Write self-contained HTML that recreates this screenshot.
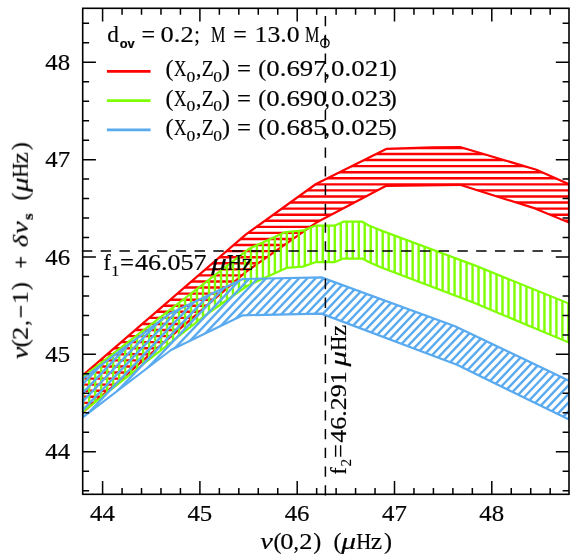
<!DOCTYPE html><html><head><meta charset="utf-8"><title>chart</title><style>html,body{margin:0;padding:0;background:#fff}svg{display:block}text{font-family:"Liberation Serif",serif;fill:#000;stroke:#000;stroke-width:0.18px}.sans{font-family:"Liberation Sans",sans-serif}.i{font-style:italic;stroke-width:0.2px}</style></head><body>
<svg width="584" height="556" viewBox="0 0 584 556">
<rect width="584" height="556" fill="#fff"/>
<defs>
<clipPath id="cr"><polygon points="82.7,375.3 246.0,234.3 316.0,184.0 386.2,148.9 432.4,147.4 460.0,147.0 536.4,169.7 569.0,184.3 569.0,222.6 535.0,208.4 460.0,184.8 386.2,185.8 316.0,222.8 246.0,271.8 82.7,412.3"/></clipPath>
<clipPath id="cg"><polygon points="82.7,377.0 249.2,248.7 285.5,232.0 302.0,230.7 315.3,225.7 334.4,225.7 343.3,221.7 362.2,221.7 368.8,225.5 380.0,230.1 474.0,265.1 569.0,303.6 569.0,342.6 474.0,302.8 380.0,267.0 368.8,262.0 362.2,258.6 343.3,258.6 334.4,262.2 315.3,262.2 302.8,266.6 286.4,267.9 247.0,286.0 205.0,315.5 82.7,412.0"/></clipPath>
<clipPath id="cb"><polygon points="82.7,378.8 170.0,313.5 242.8,279.0 321.4,277.4 455.0,326.3 569.0,380.7 569.0,419.5 457.0,364.8 321.4,313.6 242.8,315.3 171.0,350.0 82.7,417.4"/></clipPath>
<clipPath id="cf"><rect x="82.7" y="8.3" width="486.3" height="486.0"/></clipPath>
</defs>
<g clip-path="url(#cf)">
<g clip-path="url(#cr)"><g stroke="#ff0000" stroke-width="2.4"><line x1="82.7" y1="2.25" x2="569.0" y2="2.25"/><line x1="82.7" y1="8.32" x2="569.0" y2="8.32"/><line x1="82.7" y1="14.39" x2="569.0" y2="14.39"/><line x1="82.7" y1="20.46" x2="569.0" y2="20.46"/><line x1="82.7" y1="26.53" x2="569.0" y2="26.53"/><line x1="82.7" y1="32.60" x2="569.0" y2="32.60"/><line x1="82.7" y1="38.67" x2="569.0" y2="38.67"/><line x1="82.7" y1="44.74" x2="569.0" y2="44.74"/><line x1="82.7" y1="50.81" x2="569.0" y2="50.81"/><line x1="82.7" y1="56.88" x2="569.0" y2="56.88"/><line x1="82.7" y1="62.95" x2="569.0" y2="62.95"/><line x1="82.7" y1="69.02" x2="569.0" y2="69.02"/><line x1="82.7" y1="75.09" x2="569.0" y2="75.09"/><line x1="82.7" y1="81.16" x2="569.0" y2="81.16"/><line x1="82.7" y1="87.23" x2="569.0" y2="87.23"/><line x1="82.7" y1="93.30" x2="569.0" y2="93.30"/><line x1="82.7" y1="99.37" x2="569.0" y2="99.37"/><line x1="82.7" y1="105.44" x2="569.0" y2="105.44"/><line x1="82.7" y1="111.51" x2="569.0" y2="111.51"/><line x1="82.7" y1="117.58" x2="569.0" y2="117.58"/><line x1="82.7" y1="123.65" x2="569.0" y2="123.65"/><line x1="82.7" y1="129.72" x2="569.0" y2="129.72"/><line x1="82.7" y1="135.79" x2="569.0" y2="135.79"/><line x1="82.7" y1="141.86" x2="569.0" y2="141.86"/><line x1="82.7" y1="147.93" x2="569.0" y2="147.93"/><line x1="82.7" y1="154.00" x2="569.0" y2="154.00"/><line x1="82.7" y1="160.07" x2="569.0" y2="160.07"/><line x1="82.7" y1="166.14" x2="569.0" y2="166.14"/><line x1="82.7" y1="172.21" x2="569.0" y2="172.21"/><line x1="82.7" y1="178.28" x2="569.0" y2="178.28"/><line x1="82.7" y1="184.35" x2="569.0" y2="184.35"/><line x1="82.7" y1="190.42" x2="569.0" y2="190.42"/><line x1="82.7" y1="196.49" x2="569.0" y2="196.49"/><line x1="82.7" y1="202.56" x2="569.0" y2="202.56"/><line x1="82.7" y1="208.63" x2="569.0" y2="208.63"/><line x1="82.7" y1="214.70" x2="569.0" y2="214.70"/><line x1="82.7" y1="220.77" x2="569.0" y2="220.77"/><line x1="82.7" y1="226.84" x2="569.0" y2="226.84"/><line x1="82.7" y1="232.91" x2="569.0" y2="232.91"/><line x1="82.7" y1="238.98" x2="569.0" y2="238.98"/><line x1="82.7" y1="245.05" x2="569.0" y2="245.05"/><line x1="82.7" y1="251.12" x2="569.0" y2="251.12"/><line x1="82.7" y1="257.19" x2="569.0" y2="257.19"/><line x1="82.7" y1="263.26" x2="569.0" y2="263.26"/><line x1="82.7" y1="269.33" x2="569.0" y2="269.33"/><line x1="82.7" y1="275.40" x2="569.0" y2="275.40"/><line x1="82.7" y1="281.47" x2="569.0" y2="281.47"/><line x1="82.7" y1="287.54" x2="569.0" y2="287.54"/><line x1="82.7" y1="293.61" x2="569.0" y2="293.61"/><line x1="82.7" y1="299.68" x2="569.0" y2="299.68"/><line x1="82.7" y1="305.75" x2="569.0" y2="305.75"/><line x1="82.7" y1="311.82" x2="569.0" y2="311.82"/><line x1="82.7" y1="317.89" x2="569.0" y2="317.89"/><line x1="82.7" y1="323.96" x2="569.0" y2="323.96"/><line x1="82.7" y1="330.03" x2="569.0" y2="330.03"/><line x1="82.7" y1="336.10" x2="569.0" y2="336.10"/><line x1="82.7" y1="342.17" x2="569.0" y2="342.17"/><line x1="82.7" y1="348.24" x2="569.0" y2="348.24"/><line x1="82.7" y1="354.31" x2="569.0" y2="354.31"/><line x1="82.7" y1="360.38" x2="569.0" y2="360.38"/><line x1="82.7" y1="366.45" x2="569.0" y2="366.45"/><line x1="82.7" y1="372.52" x2="569.0" y2="372.52"/><line x1="82.7" y1="378.59" x2="569.0" y2="378.59"/><line x1="82.7" y1="384.66" x2="569.0" y2="384.66"/><line x1="82.7" y1="390.73" x2="569.0" y2="390.73"/><line x1="82.7" y1="396.80" x2="569.0" y2="396.80"/><line x1="82.7" y1="402.87" x2="569.0" y2="402.87"/><line x1="82.7" y1="408.94" x2="569.0" y2="408.94"/><line x1="82.7" y1="415.01" x2="569.0" y2="415.01"/><line x1="82.7" y1="421.08" x2="569.0" y2="421.08"/><line x1="82.7" y1="427.15" x2="569.0" y2="427.15"/><line x1="82.7" y1="433.22" x2="569.0" y2="433.22"/><line x1="82.7" y1="439.29" x2="569.0" y2="439.29"/><line x1="82.7" y1="445.36" x2="569.0" y2="445.36"/><line x1="82.7" y1="451.43" x2="569.0" y2="451.43"/><line x1="82.7" y1="457.50" x2="569.0" y2="457.50"/><line x1="82.7" y1="463.57" x2="569.0" y2="463.57"/><line x1="82.7" y1="469.64" x2="569.0" y2="469.64"/><line x1="82.7" y1="475.71" x2="569.0" y2="475.71"/><line x1="82.7" y1="481.78" x2="569.0" y2="481.78"/><line x1="82.7" y1="487.85" x2="569.0" y2="487.85"/><line x1="82.7" y1="493.92" x2="569.0" y2="493.92"/></g></g>
<polygon points="82.7,375.3 246.0,234.3 316.0,184.0 386.2,148.9 432.4,147.4 460.0,147.0 536.4,169.7 569.0,184.3 569.0,222.6 535.0,208.4 460.0,184.8 386.2,185.8 316.0,222.8 246.0,271.8 82.7,412.3" fill="none" stroke="#ff0000" stroke-width="2.2" stroke-linejoin="round"/>
<g clip-path="url(#cg)"><g stroke="#7fff00" stroke-width="2.4"><line x1="77.21" y1="8.3" x2="77.21" y2="494.3"/><line x1="83.20" y1="8.3" x2="83.20" y2="494.3"/><line x1="89.19" y1="8.3" x2="89.19" y2="494.3"/><line x1="95.18" y1="8.3" x2="95.18" y2="494.3"/><line x1="101.17" y1="8.3" x2="101.17" y2="494.3"/><line x1="107.16" y1="8.3" x2="107.16" y2="494.3"/><line x1="113.15" y1="8.3" x2="113.15" y2="494.3"/><line x1="119.14" y1="8.3" x2="119.14" y2="494.3"/><line x1="125.13" y1="8.3" x2="125.13" y2="494.3"/><line x1="131.12" y1="8.3" x2="131.12" y2="494.3"/><line x1="137.11" y1="8.3" x2="137.11" y2="494.3"/><line x1="143.10" y1="8.3" x2="143.10" y2="494.3"/><line x1="149.09" y1="8.3" x2="149.09" y2="494.3"/><line x1="155.08" y1="8.3" x2="155.08" y2="494.3"/><line x1="161.07" y1="8.3" x2="161.07" y2="494.3"/><line x1="167.06" y1="8.3" x2="167.06" y2="494.3"/><line x1="173.05" y1="8.3" x2="173.05" y2="494.3"/><line x1="179.04" y1="8.3" x2="179.04" y2="494.3"/><line x1="185.03" y1="8.3" x2="185.03" y2="494.3"/><line x1="191.02" y1="8.3" x2="191.02" y2="494.3"/><line x1="197.01" y1="8.3" x2="197.01" y2="494.3"/><line x1="203.00" y1="8.3" x2="203.00" y2="494.3"/><line x1="208.99" y1="8.3" x2="208.99" y2="494.3"/><line x1="214.98" y1="8.3" x2="214.98" y2="494.3"/><line x1="220.97" y1="8.3" x2="220.97" y2="494.3"/><line x1="226.96" y1="8.3" x2="226.96" y2="494.3"/><line x1="232.95" y1="8.3" x2="232.95" y2="494.3"/><line x1="238.94" y1="8.3" x2="238.94" y2="494.3"/><line x1="244.93" y1="8.3" x2="244.93" y2="494.3"/><line x1="250.92" y1="8.3" x2="250.92" y2="494.3"/><line x1="256.91" y1="8.3" x2="256.91" y2="494.3"/><line x1="262.90" y1="8.3" x2="262.90" y2="494.3"/><line x1="268.89" y1="8.3" x2="268.89" y2="494.3"/><line x1="274.88" y1="8.3" x2="274.88" y2="494.3"/><line x1="280.87" y1="8.3" x2="280.87" y2="494.3"/><line x1="286.86" y1="8.3" x2="286.86" y2="494.3"/><line x1="292.85" y1="8.3" x2="292.85" y2="494.3"/><line x1="298.84" y1="8.3" x2="298.84" y2="494.3"/><line x1="304.83" y1="8.3" x2="304.83" y2="494.3"/><line x1="310.82" y1="8.3" x2="310.82" y2="494.3"/><line x1="316.81" y1="8.3" x2="316.81" y2="494.3"/><line x1="322.80" y1="8.3" x2="322.80" y2="494.3"/><line x1="328.79" y1="8.3" x2="328.79" y2="494.3"/><line x1="334.78" y1="8.3" x2="334.78" y2="494.3"/><line x1="340.77" y1="8.3" x2="340.77" y2="494.3"/><line x1="346.76" y1="8.3" x2="346.76" y2="494.3"/><line x1="352.75" y1="8.3" x2="352.75" y2="494.3"/><line x1="358.74" y1="8.3" x2="358.74" y2="494.3"/><line x1="364.73" y1="8.3" x2="364.73" y2="494.3"/><line x1="370.72" y1="8.3" x2="370.72" y2="494.3"/><line x1="376.71" y1="8.3" x2="376.71" y2="494.3"/><line x1="382.70" y1="8.3" x2="382.70" y2="494.3"/><line x1="388.69" y1="8.3" x2="388.69" y2="494.3"/><line x1="394.68" y1="8.3" x2="394.68" y2="494.3"/><line x1="400.67" y1="8.3" x2="400.67" y2="494.3"/><line x1="406.66" y1="8.3" x2="406.66" y2="494.3"/><line x1="412.65" y1="8.3" x2="412.65" y2="494.3"/><line x1="418.64" y1="8.3" x2="418.64" y2="494.3"/><line x1="424.63" y1="8.3" x2="424.63" y2="494.3"/><line x1="430.62" y1="8.3" x2="430.62" y2="494.3"/><line x1="436.61" y1="8.3" x2="436.61" y2="494.3"/><line x1="442.60" y1="8.3" x2="442.60" y2="494.3"/><line x1="448.59" y1="8.3" x2="448.59" y2="494.3"/><line x1="454.58" y1="8.3" x2="454.58" y2="494.3"/><line x1="460.57" y1="8.3" x2="460.57" y2="494.3"/><line x1="466.56" y1="8.3" x2="466.56" y2="494.3"/><line x1="472.55" y1="8.3" x2="472.55" y2="494.3"/><line x1="478.54" y1="8.3" x2="478.54" y2="494.3"/><line x1="484.53" y1="8.3" x2="484.53" y2="494.3"/><line x1="490.52" y1="8.3" x2="490.52" y2="494.3"/><line x1="496.51" y1="8.3" x2="496.51" y2="494.3"/><line x1="502.50" y1="8.3" x2="502.50" y2="494.3"/><line x1="508.49" y1="8.3" x2="508.49" y2="494.3"/><line x1="514.48" y1="8.3" x2="514.48" y2="494.3"/><line x1="520.47" y1="8.3" x2="520.47" y2="494.3"/><line x1="526.46" y1="8.3" x2="526.46" y2="494.3"/><line x1="532.45" y1="8.3" x2="532.45" y2="494.3"/><line x1="538.44" y1="8.3" x2="538.44" y2="494.3"/><line x1="544.43" y1="8.3" x2="544.43" y2="494.3"/><line x1="550.42" y1="8.3" x2="550.42" y2="494.3"/><line x1="556.41" y1="8.3" x2="556.41" y2="494.3"/><line x1="562.40" y1="8.3" x2="562.40" y2="494.3"/><line x1="568.39" y1="8.3" x2="568.39" y2="494.3"/></g></g>
<polygon points="82.7,377.0 249.2,248.7 285.5,232.0 302.0,230.7 315.3,225.7 334.4,225.7 343.3,221.7 362.2,221.7 368.8,225.5 380.0,230.1 474.0,265.1 569.0,303.6 569.0,342.6 474.0,302.8 380.0,267.0 368.8,262.0 362.2,258.6 343.3,258.6 334.4,262.2 315.3,262.2 302.8,266.6 286.4,267.9 247.0,286.0 205.0,315.5 82.7,412.0" fill="none" stroke="#7fff00" stroke-width="2.2" stroke-linejoin="round"/>
<g clip-path="url(#cb)"><g stroke="#5aaaf0" stroke-width="2.4"><line x1="-385.11" y1="494.3" x2="77.75" y2="8.3"/><line x1="-376.86" y1="494.3" x2="86.00" y2="8.3"/><line x1="-368.61" y1="494.3" x2="94.25" y2="8.3"/><line x1="-360.36" y1="494.3" x2="102.50" y2="8.3"/><line x1="-352.11" y1="494.3" x2="110.75" y2="8.3"/><line x1="-343.86" y1="494.3" x2="119.00" y2="8.3"/><line x1="-335.61" y1="494.3" x2="127.25" y2="8.3"/><line x1="-327.36" y1="494.3" x2="135.50" y2="8.3"/><line x1="-319.11" y1="494.3" x2="143.75" y2="8.3"/><line x1="-310.86" y1="494.3" x2="152.00" y2="8.3"/><line x1="-302.61" y1="494.3" x2="160.25" y2="8.3"/><line x1="-294.36" y1="494.3" x2="168.50" y2="8.3"/><line x1="-286.11" y1="494.3" x2="176.75" y2="8.3"/><line x1="-277.86" y1="494.3" x2="185.00" y2="8.3"/><line x1="-269.61" y1="494.3" x2="193.25" y2="8.3"/><line x1="-261.36" y1="494.3" x2="201.50" y2="8.3"/><line x1="-253.11" y1="494.3" x2="209.75" y2="8.3"/><line x1="-244.86" y1="494.3" x2="218.00" y2="8.3"/><line x1="-236.61" y1="494.3" x2="226.25" y2="8.3"/><line x1="-228.36" y1="494.3" x2="234.50" y2="8.3"/><line x1="-220.11" y1="494.3" x2="242.75" y2="8.3"/><line x1="-211.86" y1="494.3" x2="251.00" y2="8.3"/><line x1="-203.61" y1="494.3" x2="259.25" y2="8.3"/><line x1="-195.36" y1="494.3" x2="267.50" y2="8.3"/><line x1="-187.11" y1="494.3" x2="275.75" y2="8.3"/><line x1="-178.86" y1="494.3" x2="284.00" y2="8.3"/><line x1="-170.61" y1="494.3" x2="292.25" y2="8.3"/><line x1="-162.36" y1="494.3" x2="300.50" y2="8.3"/><line x1="-154.11" y1="494.3" x2="308.75" y2="8.3"/><line x1="-145.86" y1="494.3" x2="317.00" y2="8.3"/><line x1="-137.61" y1="494.3" x2="325.25" y2="8.3"/><line x1="-129.36" y1="494.3" x2="333.50" y2="8.3"/><line x1="-121.11" y1="494.3" x2="341.75" y2="8.3"/><line x1="-112.86" y1="494.3" x2="350.00" y2="8.3"/><line x1="-104.61" y1="494.3" x2="358.25" y2="8.3"/><line x1="-96.36" y1="494.3" x2="366.50" y2="8.3"/><line x1="-88.11" y1="494.3" x2="374.75" y2="8.3"/><line x1="-79.86" y1="494.3" x2="383.00" y2="8.3"/><line x1="-71.61" y1="494.3" x2="391.25" y2="8.3"/><line x1="-63.36" y1="494.3" x2="399.50" y2="8.3"/><line x1="-55.11" y1="494.3" x2="407.75" y2="8.3"/><line x1="-46.86" y1="494.3" x2="416.00" y2="8.3"/><line x1="-38.61" y1="494.3" x2="424.25" y2="8.3"/><line x1="-30.36" y1="494.3" x2="432.50" y2="8.3"/><line x1="-22.11" y1="494.3" x2="440.75" y2="8.3"/><line x1="-13.86" y1="494.3" x2="449.00" y2="8.3"/><line x1="-5.61" y1="494.3" x2="457.25" y2="8.3"/><line x1="2.64" y1="494.3" x2="465.50" y2="8.3"/><line x1="10.89" y1="494.3" x2="473.75" y2="8.3"/><line x1="19.14" y1="494.3" x2="482.00" y2="8.3"/><line x1="27.39" y1="494.3" x2="490.25" y2="8.3"/><line x1="35.64" y1="494.3" x2="498.50" y2="8.3"/><line x1="43.89" y1="494.3" x2="506.75" y2="8.3"/><line x1="52.14" y1="494.3" x2="515.00" y2="8.3"/><line x1="60.39" y1="494.3" x2="523.25" y2="8.3"/><line x1="68.64" y1="494.3" x2="531.50" y2="8.3"/><line x1="76.89" y1="494.3" x2="539.75" y2="8.3"/><line x1="85.14" y1="494.3" x2="548.00" y2="8.3"/><line x1="93.39" y1="494.3" x2="556.25" y2="8.3"/><line x1="101.64" y1="494.3" x2="564.50" y2="8.3"/><line x1="109.89" y1="494.3" x2="572.75" y2="8.3"/><line x1="118.14" y1="494.3" x2="581.00" y2="8.3"/><line x1="126.39" y1="494.3" x2="589.25" y2="8.3"/><line x1="134.64" y1="494.3" x2="597.50" y2="8.3"/><line x1="142.89" y1="494.3" x2="605.75" y2="8.3"/><line x1="151.14" y1="494.3" x2="614.00" y2="8.3"/><line x1="159.39" y1="494.3" x2="622.25" y2="8.3"/><line x1="167.64" y1="494.3" x2="630.50" y2="8.3"/><line x1="175.89" y1="494.3" x2="638.75" y2="8.3"/><line x1="184.14" y1="494.3" x2="647.00" y2="8.3"/><line x1="192.39" y1="494.3" x2="655.25" y2="8.3"/><line x1="200.64" y1="494.3" x2="663.50" y2="8.3"/><line x1="208.89" y1="494.3" x2="671.75" y2="8.3"/><line x1="217.14" y1="494.3" x2="680.00" y2="8.3"/><line x1="225.39" y1="494.3" x2="688.25" y2="8.3"/><line x1="233.64" y1="494.3" x2="696.50" y2="8.3"/><line x1="241.89" y1="494.3" x2="704.75" y2="8.3"/><line x1="250.14" y1="494.3" x2="713.00" y2="8.3"/><line x1="258.39" y1="494.3" x2="721.25" y2="8.3"/><line x1="266.64" y1="494.3" x2="729.50" y2="8.3"/><line x1="274.89" y1="494.3" x2="737.75" y2="8.3"/><line x1="283.14" y1="494.3" x2="746.00" y2="8.3"/><line x1="291.39" y1="494.3" x2="754.25" y2="8.3"/><line x1="299.64" y1="494.3" x2="762.50" y2="8.3"/><line x1="307.89" y1="494.3" x2="770.75" y2="8.3"/><line x1="316.14" y1="494.3" x2="779.00" y2="8.3"/><line x1="324.39" y1="494.3" x2="787.25" y2="8.3"/><line x1="332.64" y1="494.3" x2="795.50" y2="8.3"/><line x1="340.89" y1="494.3" x2="803.75" y2="8.3"/><line x1="349.14" y1="494.3" x2="812.00" y2="8.3"/><line x1="357.39" y1="494.3" x2="820.25" y2="8.3"/><line x1="365.64" y1="494.3" x2="828.50" y2="8.3"/><line x1="373.89" y1="494.3" x2="836.75" y2="8.3"/><line x1="382.14" y1="494.3" x2="845.00" y2="8.3"/><line x1="390.39" y1="494.3" x2="853.25" y2="8.3"/><line x1="398.64" y1="494.3" x2="861.50" y2="8.3"/><line x1="406.89" y1="494.3" x2="869.75" y2="8.3"/><line x1="415.14" y1="494.3" x2="878.00" y2="8.3"/><line x1="423.39" y1="494.3" x2="886.25" y2="8.3"/><line x1="431.64" y1="494.3" x2="894.50" y2="8.3"/><line x1="439.89" y1="494.3" x2="902.75" y2="8.3"/><line x1="448.14" y1="494.3" x2="911.00" y2="8.3"/><line x1="456.39" y1="494.3" x2="919.25" y2="8.3"/><line x1="464.64" y1="494.3" x2="927.50" y2="8.3"/><line x1="472.89" y1="494.3" x2="935.75" y2="8.3"/><line x1="481.14" y1="494.3" x2="944.00" y2="8.3"/><line x1="489.39" y1="494.3" x2="952.25" y2="8.3"/><line x1="497.64" y1="494.3" x2="960.50" y2="8.3"/><line x1="505.89" y1="494.3" x2="968.75" y2="8.3"/><line x1="514.14" y1="494.3" x2="977.00" y2="8.3"/><line x1="522.39" y1="494.3" x2="985.25" y2="8.3"/><line x1="530.64" y1="494.3" x2="993.50" y2="8.3"/><line x1="538.89" y1="494.3" x2="1001.75" y2="8.3"/><line x1="547.14" y1="494.3" x2="1010.00" y2="8.3"/><line x1="555.39" y1="494.3" x2="1018.25" y2="8.3"/><line x1="563.64" y1="494.3" x2="1026.50" y2="8.3"/></g></g>
<polygon points="82.7,378.8 170.0,313.5 242.8,279.0 321.4,277.4 455.0,326.3 569.0,380.7 569.0,419.5 457.0,364.8 321.4,313.6 242.8,315.3 171.0,350.0 82.7,417.4" fill="none" stroke="#5aaaf0" stroke-width="2.2" stroke-linejoin="round"/>
</g>
<line x1="81.9" y1="250.9" x2="569.0" y2="250.9" stroke="#000" stroke-width="1.5" stroke-dasharray="10.4 8.375"/>
<line x1="325.4" y1="495.6" x2="325.4" y2="8.3" stroke="#000" stroke-width="1.5" stroke-dasharray="10.3 8.47"/>
<rect x="82.7" y="8.3" width="486.3" height="486.0" fill="none" stroke="#000" stroke-width="1.6"/>
<path d="M102.60 8.3v13.2M102.60 494.3v-13.2M122.06 8.3v6.4M122.06 494.3v-6.4M141.52 8.3v6.4M141.52 494.3v-6.4M160.98 8.3v6.4M160.98 494.3v-6.4M180.44 8.3v6.4M180.44 494.3v-6.4M199.90 8.3v13.2M199.90 494.3v-13.2M219.36 8.3v6.4M219.36 494.3v-6.4M238.82 8.3v6.4M238.82 494.3v-6.4M258.28 8.3v6.4M258.28 494.3v-6.4M277.74 8.3v6.4M277.74 494.3v-6.4M297.20 8.3v13.2M297.20 494.3v-13.2M316.66 8.3v6.4M316.66 494.3v-6.4M336.12 8.3v6.4M336.12 494.3v-6.4M355.58 8.3v6.4M355.58 494.3v-6.4M375.04 8.3v6.4M375.04 494.3v-6.4M394.50 8.3v13.2M394.50 494.3v-13.2M413.96 8.3v6.4M413.96 494.3v-6.4M433.42 8.3v6.4M433.42 494.3v-6.4M452.88 8.3v6.4M452.88 494.3v-6.4M472.34 8.3v6.4M472.34 494.3v-6.4M491.80 8.3v13.2M491.80 494.3v-13.2M511.26 8.3v6.4M511.26 494.3v-6.4M530.72 8.3v6.4M530.72 494.3v-6.4M550.18 8.3v6.4M550.18 494.3v-6.4M82.7 490.64h6.4M569.0 490.64h-6.4M82.7 471.17h6.4M569.0 471.17h-6.4M82.7 451.70h13.2M569.0 451.70h-13.2M82.7 432.23h6.4M569.0 432.23h-6.4M82.7 412.76h6.4M569.0 412.76h-6.4M82.7 393.29h6.4M569.0 393.29h-6.4M82.7 373.82h6.4M569.0 373.82h-6.4M82.7 354.35h13.2M569.0 354.35h-13.2M82.7 334.88h6.4M569.0 334.88h-6.4M82.7 315.41h6.4M569.0 315.41h-6.4M82.7 295.94h6.4M569.0 295.94h-6.4M82.7 276.47h6.4M569.0 276.47h-6.4M82.7 257.00h13.2M569.0 257.00h-13.2M82.7 237.53h6.4M569.0 237.53h-6.4M82.7 218.06h6.4M569.0 218.06h-6.4M82.7 198.59h6.4M569.0 198.59h-6.4M82.7 179.12h6.4M569.0 179.12h-6.4M82.7 159.65h13.2M569.0 159.65h-13.2M82.7 140.18h6.4M569.0 140.18h-6.4M82.7 120.71h6.4M569.0 120.71h-6.4M82.7 101.24h6.4M569.0 101.24h-6.4M82.7 81.77h6.4M569.0 81.77h-6.4M82.7 62.30h13.2M569.0 62.30h-13.2M82.7 42.83h6.4M569.0 42.83h-6.4M82.7 23.36h6.4M569.0 23.36h-6.4" stroke="#000" stroke-width="1.5" fill="none"/>
<g opacity="0.999">
<text x="90.10" y="520.70" font-size="22.2" textLength="24.80" lengthAdjust="spacingAndGlyphs" >44</text>
<text x="45.30" y="459.20" font-size="22.2" textLength="24.80" lengthAdjust="spacingAndGlyphs" >44</text>
<text x="187.40" y="520.70" font-size="22.2" textLength="24.80" lengthAdjust="spacingAndGlyphs" >45</text>
<text x="45.30" y="361.85" font-size="22.2" textLength="24.80" lengthAdjust="spacingAndGlyphs" >45</text>
<text x="284.70" y="520.70" font-size="22.2" textLength="24.80" lengthAdjust="spacingAndGlyphs" >46</text>
<text x="45.30" y="264.50" font-size="22.2" textLength="24.80" lengthAdjust="spacingAndGlyphs" >46</text>
<text x="382.00" y="520.70" font-size="22.2" textLength="24.80" lengthAdjust="spacingAndGlyphs" >47</text>
<text x="45.30" y="167.15" font-size="22.2" textLength="24.80" lengthAdjust="spacingAndGlyphs" >47</text>
<text x="479.30" y="520.70" font-size="22.2" textLength="24.80" lengthAdjust="spacingAndGlyphs" >48</text>
<text x="45.30" y="69.80" font-size="22.2" textLength="24.80" lengthAdjust="spacingAndGlyphs" >48</text>
<text x="260.30" y="548.80" font-size="24" textLength="12.60" lengthAdjust="spacingAndGlyphs" class="i" >ν</text><text x="273.40" y="548.80" font-size="23.2" textLength="8.00" lengthAdjust="spacingAndGlyphs" >(</text><text x="280.20" y="548.80" font-size="23.2" textLength="13.20" lengthAdjust="spacingAndGlyphs" >0</text><text x="293.40" y="548.80" font-size="23.2" textLength="5.40" lengthAdjust="spacingAndGlyphs" >,</text><text x="299.30" y="548.80" font-size="23.2" textLength="13.20" lengthAdjust="spacingAndGlyphs" >2</text><text x="313.30" y="548.80" font-size="23.2" textLength="8.00" lengthAdjust="spacingAndGlyphs" >)</text><text x="333.40" y="548.80" font-size="23.2" textLength="8.00" lengthAdjust="spacingAndGlyphs" >(</text><text x="341.20" y="548.80" font-size="24" textLength="14.80" lengthAdjust="spacingAndGlyphs" class="i" >μ</text><text x="356.20" y="548.80" font-size="23.2" textLength="15.00" lengthAdjust="spacingAndGlyphs" >H</text><text x="370.80" y="548.80" font-size="23.2" textLength="11.40" lengthAdjust="spacingAndGlyphs" >z</text><text x="384.00" y="548.80" font-size="23.2" textLength="8.00" lengthAdjust="spacingAndGlyphs" >)</text>
<g transform="translate(27.8,358.7) rotate(-90)"><text x="-0.50" y="0.00" font-size="24" textLength="12.60" lengthAdjust="spacingAndGlyphs" class="i" >ν</text><text x="11.60" y="0.00" font-size="23.2" textLength="8.00" lengthAdjust="spacingAndGlyphs" >(</text><text x="18.80" y="0.00" font-size="23.2" textLength="13.20" lengthAdjust="spacingAndGlyphs" >2</text><text x="33.00" y="0.00" font-size="23.2" textLength="5.40" lengthAdjust="spacingAndGlyphs" >,</text><path d="M41.4 -6.9h11.4" stroke="#000" stroke-width="1.5"/><text x="54.60" y="0.00" font-size="23.2" textLength="13.20" lengthAdjust="spacingAndGlyphs" >1</text><text x="68.60" y="0.00" font-size="23.2" textLength="8.00" lengthAdjust="spacingAndGlyphs" >)</text><path d="M91.1 -6.9h10.6M96.4 -12.2v10.6" stroke="#000" stroke-width="1.5" fill="none"/><text x="111.40" y="0.00" font-size="22" textLength="12.40" lengthAdjust="spacingAndGlyphs" class="i" >δ</text><text x="124.80" y="0.00" font-size="24" textLength="12.60" lengthAdjust="spacingAndGlyphs" class="i" >ν</text><text x="138.80" y="5.20" font-size="14" textLength="6.60" lengthAdjust="spacingAndGlyphs" font-weight="bold">s</text><text x="158.20" y="0.00" font-size="23.2" textLength="8.00" lengthAdjust="spacingAndGlyphs" >(</text><text x="166.80" y="0.00" font-size="24" textLength="14.60" lengthAdjust="spacingAndGlyphs" class="i" >μ</text><text x="180.90" y="0.00" font-size="23.2" textLength="15.00" lengthAdjust="spacingAndGlyphs" >H</text><text x="195.20" y="0.00" font-size="23.2" textLength="11.40" lengthAdjust="spacingAndGlyphs" >z</text><text x="208.40" y="0.00" font-size="23.2" textLength="8.00" lengthAdjust="spacingAndGlyphs" >)</text></g>
<text x="107.30" y="41.50" font-size="23.2" textLength="11.60" lengthAdjust="spacingAndGlyphs" >d</text><text x="119.70" y="47.80" font-size="13" textLength="15.00" lengthAdjust="spacingAndGlyphs" class="sans" font-weight="bold">ov</text><text x="141.40" y="41.50" font-size="23.2" textLength="13.60" lengthAdjust="spacingAndGlyphs" >=</text><text x="160.60" y="41.50" font-size="23.2" textLength="33.00" lengthAdjust="spacingAndGlyphs" >0.2</text><text x="194.20" y="41.50" font-size="23.2" textLength="5.60" lengthAdjust="spacingAndGlyphs" >;</text><text x="211.10" y="41.50" font-size="23.2" textLength="14.40" lengthAdjust="spacingAndGlyphs" stroke-width="0.5">M</text><text x="233.20" y="41.50" font-size="23.2" textLength="13.60" lengthAdjust="spacingAndGlyphs" >=</text><text x="254.60" y="41.50" font-size="23.2" textLength="45.00" lengthAdjust="spacingAndGlyphs" >13.0</text><text x="304.90" y="41.50" font-size="23.2" textLength="14.40" lengthAdjust="spacingAndGlyphs" stroke-width="0.5">M</text><circle cx="324.9" cy="43.0" r="4.2" fill="none" stroke="#000" stroke-width="1.3"/><path d="M324.9 36.1V48.3" stroke="#000" stroke-width="1.3"/>
<line x1="106.9" y1="71.4" x2="150.6" y2="71.4" stroke="#ff0000" stroke-width="2.8"/>
<text x="165.60" y="76.40" font-size="23.2" textLength="8.00" lengthAdjust="spacingAndGlyphs" >(</text><text x="174.00" y="76.40" font-size="23.2" textLength="12.40" lengthAdjust="spacingAndGlyphs" stroke-width="0.45">X</text><text x="186.40" y="82.20" font-size="15" textLength="8.80" lengthAdjust="spacingAndGlyphs" stroke-width="0.5">0</text><text x="196.00" y="76.40" font-size="23.2" textLength="5.40" lengthAdjust="spacingAndGlyphs" >,</text><text x="201.80" y="76.40" font-size="23.2" textLength="12.00" lengthAdjust="spacingAndGlyphs" stroke-width="0.35">Z</text><text x="213.20" y="82.20" font-size="15" textLength="8.80" lengthAdjust="spacingAndGlyphs" stroke-width="0.5">0</text><text x="222.00" y="76.40" font-size="23.2" textLength="8.00" lengthAdjust="spacingAndGlyphs" >)</text><text x="237.00" y="76.40" font-size="23.2" textLength="14.00" lengthAdjust="spacingAndGlyphs" >=</text><text x="258.30" y="76.40" font-size="23.2" textLength="8.00" lengthAdjust="spacingAndGlyphs" >(</text><text x="266.30" y="76.40" font-size="23.2" textLength="60.40" lengthAdjust="spacingAndGlyphs" >0.697</text><text x="324.40" y="76.40" font-size="23.2" textLength="5.40" lengthAdjust="spacingAndGlyphs" >,</text><text x="331.10" y="76.40" font-size="23.2" textLength="60.40" lengthAdjust="spacingAndGlyphs" >0.021</text><text x="388.80" y="76.40" font-size="23.2" textLength="8.00" lengthAdjust="spacingAndGlyphs" >)</text>
<line x1="106.9" y1="100.6" x2="150.6" y2="100.6" stroke="#7fff00" stroke-width="2.8"/>
<text x="165.60" y="105.60" font-size="23.2" textLength="8.00" lengthAdjust="spacingAndGlyphs" >(</text><text x="174.00" y="105.60" font-size="23.2" textLength="12.40" lengthAdjust="spacingAndGlyphs" stroke-width="0.45">X</text><text x="186.40" y="111.40" font-size="15" textLength="8.80" lengthAdjust="spacingAndGlyphs" stroke-width="0.5">0</text><text x="196.00" y="105.60" font-size="23.2" textLength="5.40" lengthAdjust="spacingAndGlyphs" >,</text><text x="201.80" y="105.60" font-size="23.2" textLength="12.00" lengthAdjust="spacingAndGlyphs" stroke-width="0.35">Z</text><text x="213.20" y="111.40" font-size="15" textLength="8.80" lengthAdjust="spacingAndGlyphs" stroke-width="0.5">0</text><text x="222.00" y="105.60" font-size="23.2" textLength="8.00" lengthAdjust="spacingAndGlyphs" >)</text><text x="237.00" y="105.60" font-size="23.2" textLength="14.00" lengthAdjust="spacingAndGlyphs" >=</text><text x="258.30" y="105.60" font-size="23.2" textLength="8.00" lengthAdjust="spacingAndGlyphs" >(</text><text x="266.30" y="105.60" font-size="23.2" textLength="60.40" lengthAdjust="spacingAndGlyphs" >0.690</text><text x="324.40" y="105.60" font-size="23.2" textLength="5.40" lengthAdjust="spacingAndGlyphs" >,</text><text x="331.10" y="105.60" font-size="23.2" textLength="60.40" lengthAdjust="spacingAndGlyphs" >0.023</text><text x="388.80" y="105.60" font-size="23.2" textLength="8.00" lengthAdjust="spacingAndGlyphs" >)</text>
<line x1="106.9" y1="129.8" x2="150.6" y2="129.8" stroke="#5aaaf0" stroke-width="2.8"/>
<text x="165.60" y="134.80" font-size="23.2" textLength="8.00" lengthAdjust="spacingAndGlyphs" >(</text><text x="174.00" y="134.80" font-size="23.2" textLength="12.40" lengthAdjust="spacingAndGlyphs" stroke-width="0.45">X</text><text x="186.40" y="140.60" font-size="15" textLength="8.80" lengthAdjust="spacingAndGlyphs" stroke-width="0.5">0</text><text x="196.00" y="134.80" font-size="23.2" textLength="5.40" lengthAdjust="spacingAndGlyphs" >,</text><text x="201.80" y="134.80" font-size="23.2" textLength="12.00" lengthAdjust="spacingAndGlyphs" stroke-width="0.35">Z</text><text x="213.20" y="140.60" font-size="15" textLength="8.80" lengthAdjust="spacingAndGlyphs" stroke-width="0.5">0</text><text x="222.00" y="134.80" font-size="23.2" textLength="8.00" lengthAdjust="spacingAndGlyphs" >)</text><text x="237.00" y="134.80" font-size="23.2" textLength="14.00" lengthAdjust="spacingAndGlyphs" >=</text><text x="258.30" y="134.80" font-size="23.2" textLength="8.00" lengthAdjust="spacingAndGlyphs" >(</text><text x="266.30" y="134.80" font-size="23.2" textLength="60.40" lengthAdjust="spacingAndGlyphs" >0.685</text><text x="324.40" y="134.80" font-size="23.2" textLength="5.40" lengthAdjust="spacingAndGlyphs" >,</text><text x="331.10" y="134.80" font-size="23.2" textLength="60.40" lengthAdjust="spacingAndGlyphs" >0.025</text><text x="388.80" y="134.80" font-size="23.2" textLength="8.00" lengthAdjust="spacingAndGlyphs" >)</text>
<g transform="translate(0,270.3)"><text x="103.40" y="0.00" font-size="22.4" textLength="7.20" lengthAdjust="spacingAndGlyphs" >f</text><text x="111.40" y="5.30" font-size="14.5" textLength="7.60" lengthAdjust="spacingAndGlyphs" >1</text><text x="119.90" y="0.00" font-size="22.4" textLength="14.00" lengthAdjust="spacingAndGlyphs" >=</text><text x="135.00" y="0.00" font-size="22.4" textLength="71.60" lengthAdjust="spacingAndGlyphs" >46.057</text><text x="211.20" y="0.00" font-size="24" textLength="15.60" lengthAdjust="spacingAndGlyphs" class="i" >μ</text><text x="227.00" y="0.00" font-size="22.4" textLength="15.00" lengthAdjust="spacingAndGlyphs" >H</text><text x="241.80" y="0.00" font-size="22.4" textLength="11.20" lengthAdjust="spacingAndGlyphs" >z</text></g>
<g transform="translate(345.5,577.8) rotate(-90)"><text x="103.40" y="0.00" font-size="22.4" textLength="7.20" lengthAdjust="spacingAndGlyphs" >f</text><text x="111.40" y="5.30" font-size="14.5" textLength="7.60" lengthAdjust="spacingAndGlyphs" >2</text><text x="119.90" y="0.00" font-size="22.4" textLength="14.00" lengthAdjust="spacingAndGlyphs" >=</text><text x="135.00" y="0.00" font-size="22.4" textLength="71.60" lengthAdjust="spacingAndGlyphs" >46.291</text><text x="211.20" y="0.00" font-size="24" textLength="15.60" lengthAdjust="spacingAndGlyphs" class="i" >μ</text><text x="227.00" y="0.00" font-size="22.4" textLength="15.00" lengthAdjust="spacingAndGlyphs" >H</text><text x="241.80" y="0.00" font-size="22.4" textLength="11.20" lengthAdjust="spacingAndGlyphs" >z</text></g>
</g>
</svg></body></html>
